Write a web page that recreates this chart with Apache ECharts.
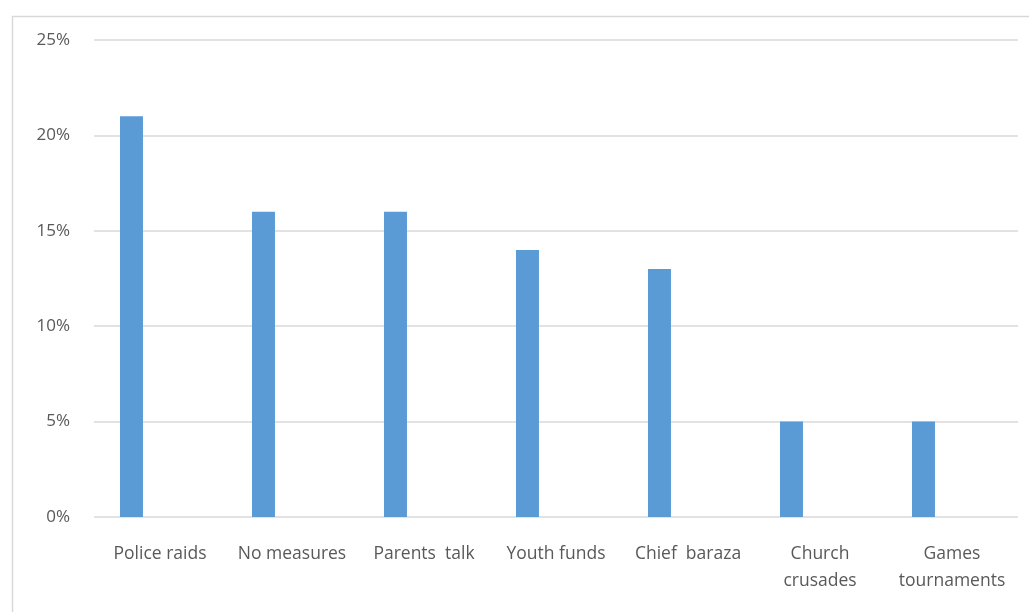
<!DOCTYPE html>
<html><head><meta charset="utf-8">
<script src="https://cdn.jsdelivr.net/npm/echarts@6/dist/echarts.min.js"></script>
<style>html,body{margin:0;padding:0;background:#fff}#c{width:1029px;height:612px}</style>
</head><body><div id="c"></div>
<script>
var categories = ['Police raids', 'No measures', 'Parents  talk', 'Youth funds', 'Chief  baraza', 'Church\ncrusades', 'Games\ntournaments'];
var values = [21, 16, 16, 14, 13, 5, 5];
var emptySeries = ['-', '-', '-', '-', '-', '-', '-'];
var yTicks = [0, 5, 10, 15, 20, 25];

var chart = echarts.init(document.getElementById('c'), null, {renderer: 'canvas'});
chart.setOption({
  animation: false,
  backgroundColor: '#fff',
  graphic: [{
    type: 'rect', left: 10, top: 14, silent: true,
    shape: {width: 1040, height: 620},
    style: {fill: 'none', stroke: '#D9D9D9', lineWidth: 1.5}
  }],
  grid: {left: 94, right: 11, top: 40, bottom: 95, containLabel: false},
  xAxis: {
    type: 'category', data: categories,
    axisLine: {show: false}, axisTick: {show: false},
    axisLabel: {color: '#595959', fontFamily: 'Open Sans', fontSize: 17.5, margin: 24, lineHeight: 27, interval: 0}
  },
  yAxis: {
    type: 'value', min: yTicks[0], max: yTicks[yTicks.length - 1], interval: 5,
    axisLine: {show: false}, axisTick: {show: false},
    splitLine: {lineStyle: {color: '#D9D9D9', width: 1.5}},
    axisLabel: {color: '#595959', fontFamily: 'Open Sans', fontSize: 17, margin: 24, formatter: '{value}%'}
  },
  series: [
    {type: 'bar', data: values, barWidth: 23, barGap: '148%', itemStyle: {color: '#5B9BD5'}},
    {type: 'bar', data: emptySeries, barWidth: 23, itemStyle: {color: '#ED7D31'}}
  ]
});
</script></body></html>
